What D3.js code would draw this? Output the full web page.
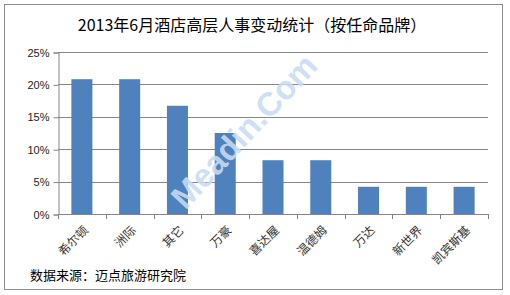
<!DOCTYPE html>
<html>
<head>
<meta charset="utf-8">
<script src="https://cdn.jsdelivr.net/npm/d3@7"></script>
<style>
  body { margin: 0; background: #fff; }
  text { font-family: "Noto Sans CJK SC", "DejaVu Sans", sans-serif; }
</style>
</head>
<body>
<script>
// size of the svg
const w = 510;
const h = 295;

// data
const brands = ["希尔顿", "洲际", "其它", "万豪", "喜达屋", "温德姆", "万达", "新世界", "凯宾斯基"];
const shares = [0.208, 0.208, 0.167, 0.125, 0.083, 0.083, 0.042, 0.042, 0.042];
const yTicks = [0, 0.05, 0.10, 0.15, 0.20, 0.25];

const title = "2013年6月酒店高层人事变动统计（按任命品牌）";
const source = "数据来源：迈点旅游研究院";

const plotLeft = 58, plotRight = 488, plotTop = 52, plotBottom = 214;

const svg = d3.select("body").append("svg").attr("width", w).attr("height", h);

// frame
svg.append("rect")
  .attr("x", 4.5).attr("y", 4.5)
  .attr("width", 498).attr("height", 285)
  .attr("fill", "#fff")
  .attr("stroke", "#8c8c8c");

const xScale = d3.scaleBand().domain(brands).range([plotLeft, plotRight]).paddingInner(0.56).paddingOuter(0.28);
const xBand = d3.scaleBand().domain(brands).range([plotLeft, plotRight]);
const yScale = d3.scaleLinear().domain([0, 0.25]).range([plotBottom, plotTop]);

// gridlines
svg.append("g")
  .selectAll("line")
  .data(yTicks.slice(1))
  .enter()
  .append("line")
  .attr("x1", plotLeft).attr("x2", plotRight)
  .attr("y1", d => Math.round(yScale(d)) + 0.5)
  .attr("y2", d => Math.round(yScale(d)) + 0.5)
  .attr("stroke", "#868686");

// bars
svg.append("g")
  .selectAll("rect")
  .data(brands)
  .enter()
  .append("rect")
  .attr("x", d => xScale(d))
  .attr("width", xScale.bandwidth())
  .attr("y", (d, i) => yScale(shares[i]))
  .attr("height", (d, i) => plotBottom - yScale(shares[i]))
  .attr("fill", "#4f81bd");

// watermark
svg.append("text")
  .attr("transform", "translate(246,133) rotate(-47)")
  .attr("text-anchor", "middle")
  .attr("dominant-baseline", "middle")
  .attr("font-weight", "bold")
  .attr("font-size", 33)
  .attr("fill", "#c9dcf4")
  .attr("fill-opacity", 0.9)
  .style("font-family", "'Liberation Sans', Arial, sans-serif")
  .text("Meadin.Com");

// y axis
const yAxis = d3.axisLeft(yScale).tickValues(yTicks).tickSize(5).tickPadding(4).tickFormat(d3.format(".0%"));
const gy = svg.append("g").attr("transform", "translate(" + (plotLeft + 0.5) + ",0.5)").call(yAxis);
gy.select(".domain").attr("stroke", "#868686");
gy.selectAll(".tick line").attr("stroke", "#868686");
gy.selectAll(".tick text")
  .attr("font-size", 11)
  .attr("fill", "#222")
  .style("font-family", "'Liberation Sans', Arial, sans-serif");

// x axis with ticks between categories
svg.append("line")
  .attr("x1", plotLeft).attr("x2", plotRight)
  .attr("y1", plotBottom + 0.5).attr("y2", plotBottom + 0.5)
  .attr("stroke", "#868686");
svg.append("g")
  .selectAll("line")
  .data(brands.concat(["end"]))
  .enter()
  .append("line")
  .attr("x1", (d, i) => Math.round(plotLeft + i * xBand.bandwidth()) + 0.5)
  .attr("x2", (d, i) => Math.round(plotLeft + i * xBand.bandwidth()) + 0.5)
  .attr("y1", plotBottom).attr("y2", plotBottom + 5)
  .attr("stroke", "#868686");

// x labels
svg.append("g")
  .selectAll("text")
  .data(brands)
  .enter()
  .append("text")
  .attr("transform", d => "translate(" + (xBand(d) + xBand.bandwidth() / 2 + 7) + "," + (plotBottom + 17) + ") rotate(-45)")
  .attr("text-anchor", "end")
  .attr("font-size", 12)
  .attr("fill", "#333")
  .text(d => d);

// title
svg.append("text")
  .attr("x", 252).attr("y", 31)
  .attr("text-anchor", "middle")
  .attr("font-size", 16)
  .attr("fill", "#000")
  .text(title);

// source
svg.append("text")
  .attr("x", 30).attr("y", 280)
  .attr("font-size", 13)
  .attr("fill", "#000")
  .text(source);
</script>
</body>
</html>
